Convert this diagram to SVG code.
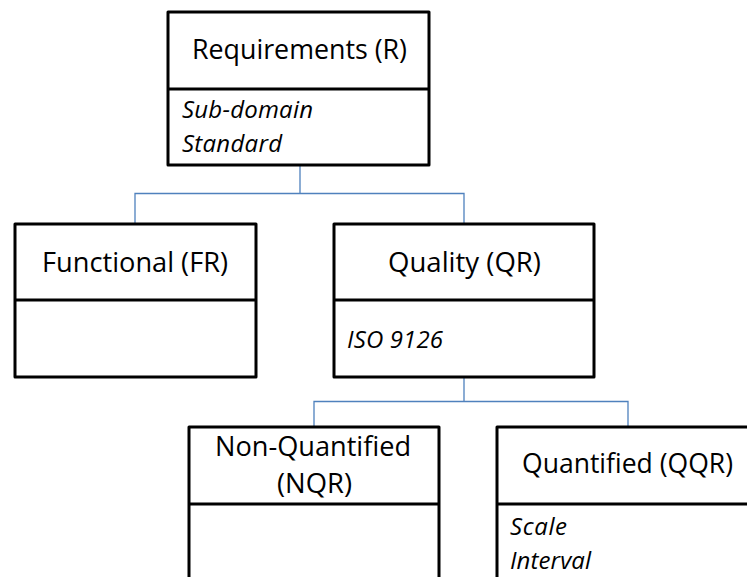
<svg xmlns="http://www.w3.org/2000/svg" width="747" height="577" viewBox="0 0 747 577">
  <style>
    .box { fill: #ffffff; stroke: #000000; stroke-width: 3; stroke-linejoin: round; }
    .sep { stroke: #000000; stroke-width: 3; fill: none; }
    .link { stroke: #4f81bd; stroke-width: 1.3; fill: none; }
    .title { font-family: "Open Sans", "Noto Sans", "Liberation Sans", sans-serif; font-size: 28px; fill: #000000; }
    .attr { font-family: "Open Sans", "Noto Sans", "Liberation Sans", sans-serif; font-size: 24px; font-style: italic; fill: #000000; }
  </style>
  <rect width="747" height="577" fill="#ffffff"/>

  <!-- generalisation links -->
  <g id="connectors">
    <path class="link" d="M300,165 V193.5 M135,224 V193.5 H464 V224"/>
    <path class="link" d="M464,378 V401.5 M314,427 V401.5 H628 V427"/>
  </g>

  <g id="node-requirements">
    <rect class="box" x="168" y="12" width="261" height="153"/>
    <line class="sep" x1="168" y1="89" x2="429" y2="89"/>
    <text class="title" x="192" y="59" textLength="215" lengthAdjust="spacingAndGlyphs">Requirements (R)</text>
    <text class="attr" x="182" y="118" textLength="131">Sub-domain</text>
    <text class="attr" x="182" y="152" textLength="100">Standard</text>
  </g>

  <g id="node-functional">
    <rect class="box" x="15" y="224" width="241" height="153"/>
    <line class="sep" x1="15" y1="300" x2="256" y2="300"/>
    <text class="title" x="42" y="272" textLength="186" lengthAdjust="spacingAndGlyphs">Functional (FR)</text>
  </g>

  <g id="node-quality">
    <rect class="box" x="334" y="224" width="260" height="153"/>
    <line class="sep" x1="334" y1="300" x2="594" y2="300"/>
    <text class="title" x="388" y="272" textLength="153" lengthAdjust="spacingAndGlyphs">Quality (QR)</text>
    <text class="attr" x="347" y="348" textLength="96">ISO 9126</text>
  </g>

  <g id="node-non-quantified">
    <rect class="box" x="189" y="427" width="250" height="200"/>
    <line class="sep" x1="189" y1="504" x2="439" y2="504"/>
    <text class="title" x="215" y="456" textLength="196" lengthAdjust="spacingAndGlyphs">Non-Quantified</text>
    <text class="title" x="277" y="493" textLength="75" lengthAdjust="spacingAndGlyphs">(NQR)</text>
  </g>

  <g id="node-quantified">
    <rect class="box" x="497" y="427" width="300" height="200"/>
    <line class="sep" x1="497" y1="504" x2="797" y2="504"/>
    <text class="title" x="522" y="473" textLength="211" lengthAdjust="spacingAndGlyphs">Quantified (QQR)</text>
    <text class="attr" x="510" y="535" textLength="57">Scale</text>
    <text class="attr" x="510" y="569" textLength="81">Interval</text>
  </g>
</svg>
